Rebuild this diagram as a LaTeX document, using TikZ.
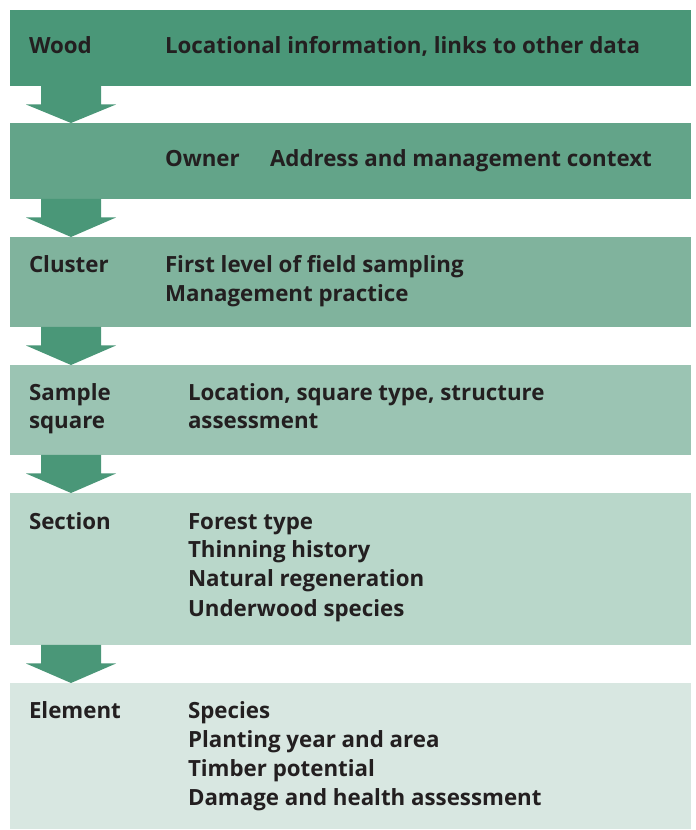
\documentclass[tikz,border=0pt]{standalone}
\usepackage{fontspec}
\setmainfont{Open Sans}
\usetikzlibrary{calc}
\definecolor{g1}{RGB}{74,151,120}
\definecolor{g2}{RGB}{99,164,137}
\definecolor{g3}{RGB}{128,179,157}
\definecolor{g4}{RGB}{155,196,179}
\definecolor{g5}{RGB}{185,215,202}
\definecolor{g6}{RGB}{216,231,225}
\definecolor{txt}{RGB}{35,31,32}
\newcommand\blockarrow[2]{%
  \fill[arr] ($(#1.south west)+(31,0)$) -- ($(#1.south west)+(31,-18.5)$) --
    ($(#1.south west)+(16,-18.5)$) -- ($(#2.north west)+(61,0)$) --
    ($(#1.south west)+(106,-18.5)$) -- ($(#1.south west)+(91,-18.5)$) --
    ($(#1.south west)+(91,0)$) -- cycle;}
\begin{document}
\begin{tikzpicture}[x=1pt,y=1pt,
  box/.style={rectangle, inner sep=0pt, outer sep=0pt, minimum width=681pt, anchor=north west},
  lbl/.style={anchor=base west, inner sep=0pt, outer sep=0pt, text=txt, font=\fontsize{22.3}{28}\selectfont\bfseries},
  arr/.style={fill=g1}]
\useasboundingbox (0,0) rectangle (696,830);
\node[box, fill=g1, minimum height=76pt] (b1) at (10,820) {};
\node[box, fill=g2, minimum height=76pt] (b2) at (10,707) {};
\node[box, fill=g3, minimum height=90pt] (b3) at (10,593) {};
\node[box, fill=g4, minimum height=90pt] (b4) at (10,465) {};
\node[box, fill=g5, minimum height=152pt] (b5) at (10,337) {};
\node[box, fill=g6, minimum height=146pt] (b6) at (10,147) {};
\blockarrow{b1}{b2}
\blockarrow{b2}{b3}
\blockarrow{b3}{b4}
\blockarrow{b4}{b5}
\blockarrow{b5}{b6}
% box 1
\node[lbl] (t1) at (29,776) {Wood};
\node[lbl] (d1) at (165,776) {Locational information, links to other data};
% box 2
\node[lbl] (t2) at (165,663) {Owner};
\node[lbl] (d2) at (270,663) {Address and management context};
% box 3
\node[lbl] (t3) at (29,557) {Cluster};
\node[lbl] (d3a) at (165,557) {First level of field sampling};
\node[lbl] (d3b) at (165,528) {Management practice};
% box 4
\node[lbl] (t4a) at (29,429) {Sample};
\node[lbl] (t4b) at (29,401) {square};
\node[lbl] (d4a) at (188,429) {Location, square type, structure};
\node[lbl] (d4b) at (188,401) {assessment};
% box 5
\node[lbl] (t5) at (29,300.5) {Section};
\node[lbl] (d5a) at (188,300.5) {Forest type};
\node[lbl] (d5b) at (188,272) {Thinning history};
\node[lbl] (d5c) at (188,243) {Natural regeneration};
\node[lbl] (d5d) at (188,213.5) {Underwood species};
% box 6
\node[lbl] (t6) at (29,111) {Element};
\node[lbl] (d6a) at (188,111) {Species};
\node[lbl] (d6b) at (188,82) {Planting year and area};
\node[lbl] (d6c) at (188,53) {Timber potential};
\node[lbl] (d6d) at (188,24) {Damage and health assessment};
\end{tikzpicture}
\end{document}
